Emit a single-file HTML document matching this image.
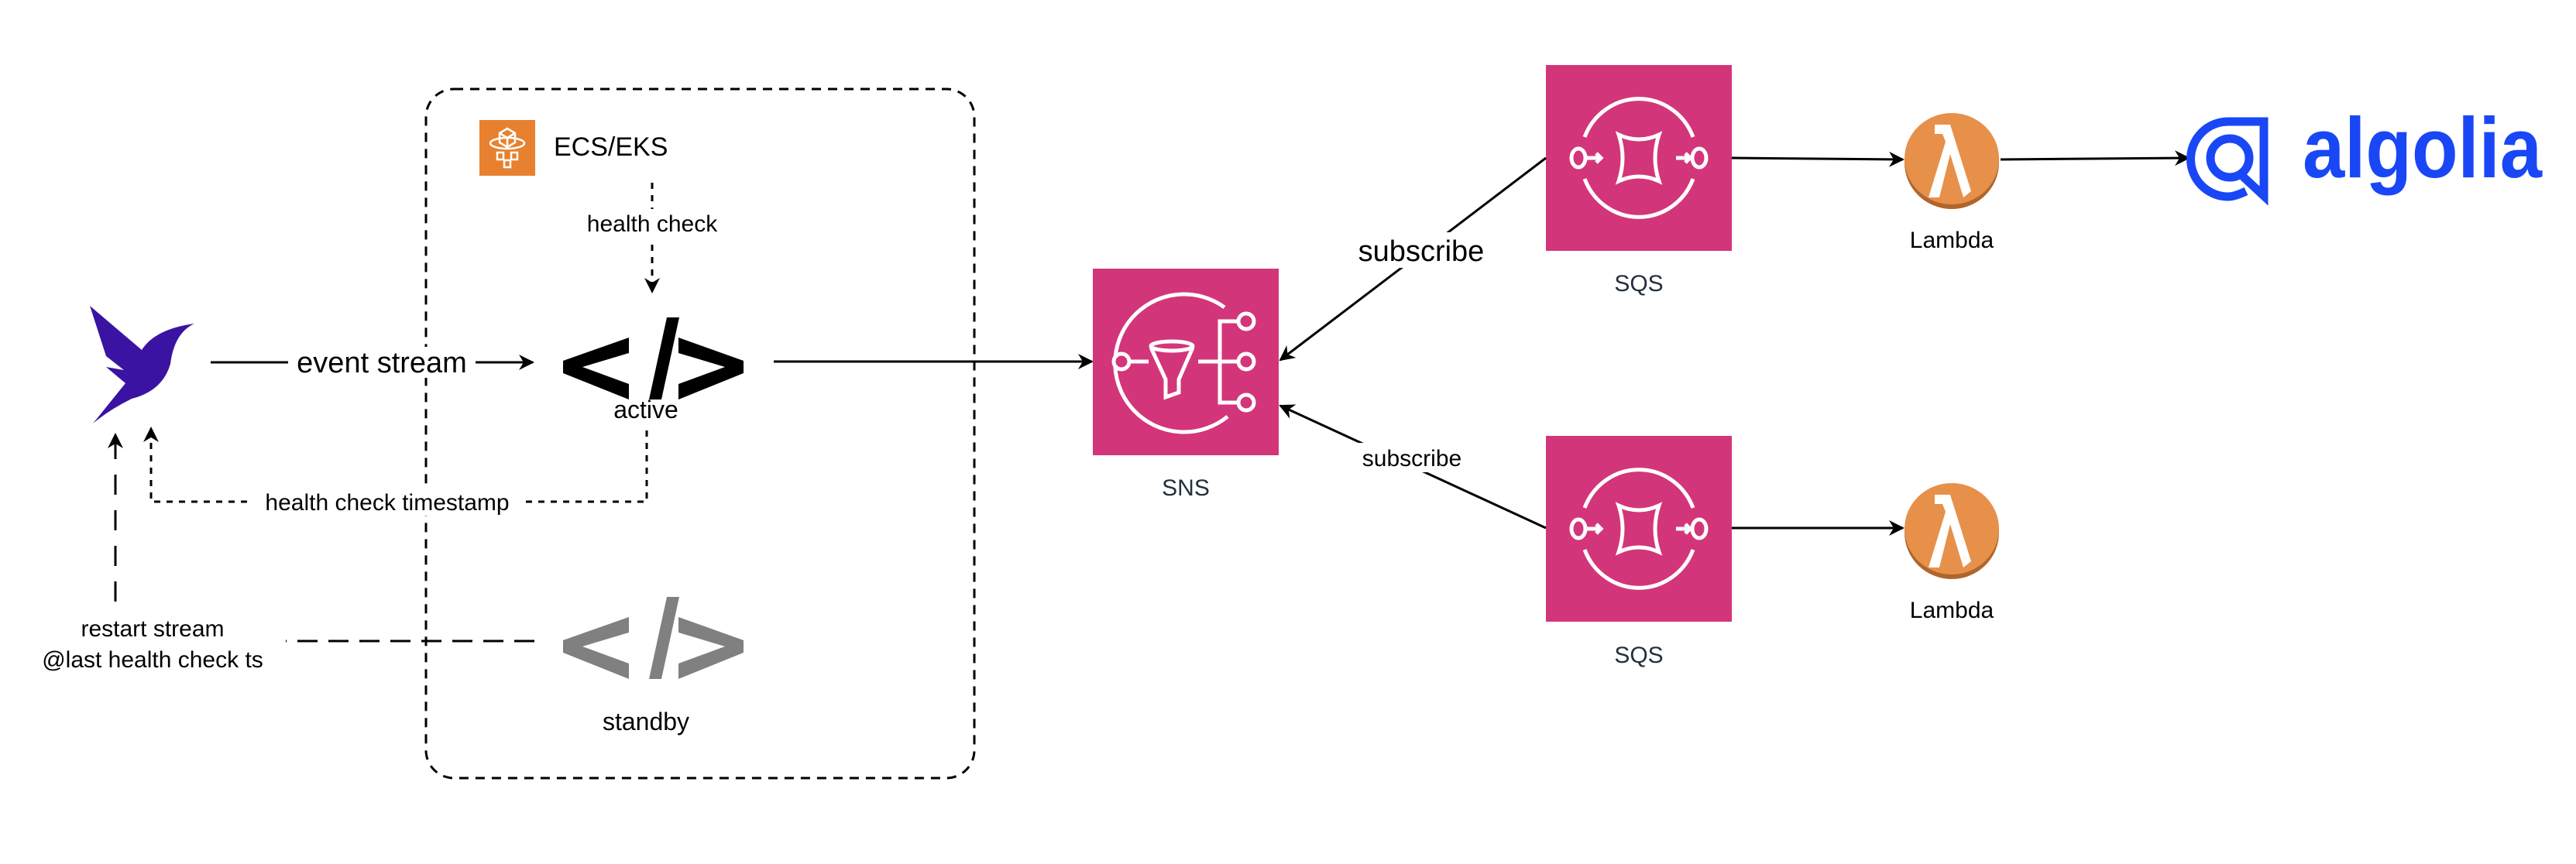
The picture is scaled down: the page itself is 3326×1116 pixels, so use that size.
<!DOCTYPE html>
<html><head><meta charset="utf-8"><style>
html,body{margin:0;padding:0;background:#fff;}
svg{display:block;}
text{font-family:"Liberation Sans",Arial,sans-serif;}
</style></head><body>
<svg width="3326" height="1116" viewBox="0 0 3326 1116" xmlns="http://www.w3.org/2000/svg">
<defs>
<marker id="ar" viewBox="0 0 20 20" refX="18" refY="10" markerWidth="20" markerHeight="20" markerUnits="userSpaceOnUse" orient="auto">
<path d="M0,0 L20,10 L0,20 L6,10 Z" fill="#000"/></marker>
</defs>

<!-- container -->
<rect x="550" y="115" width="708" height="890" rx="36" fill="none" stroke="#000" stroke-width="3" stroke-dasharray="12,9"/>

<!-- ECS icon -->
<rect x="619" y="155" width="72" height="72" fill="#E7812F"/>
<g fill="none" stroke="#fff" stroke-width="2.5">
<path d="M645,172 l10,-6 l10,6 v12 l-10,6 l-10,-6 z M645,172 l10,6 l10,-6 M655,178 v12"/>
<ellipse cx="655" cy="185" rx="22" ry="7"/>
<rect x="642" y="197" width="8" height="9"/><rect x="660" y="197" width="8" height="9"/><rect x="651" y="207" width="8" height="9"/>
</g>
<text x="715" y="201" font-size="34" fill="#000">ECS/EKS</text>

<!-- health check -->
<line x1="842" y1="236" x2="842" y2="377" stroke="#000" stroke-width="3" stroke-dasharray="8,8" marker-end="url(#ar)"/>
<rect x="740" y="270" width="200" height="38" fill="#fff"/>
<text x="842" y="299" font-size="30" text-anchor="middle" fill="#000">health check</text>

<!-- active </> -->
<g fill="#000">
<polygon points="812,436 812,456 752,474 812,496 812,516 727,482 727,466"/>
<polygon points="876,436 876,456 936,474 876,496 876,516 960,482 960,466"/>
<polygon points="861,410 877,410 854,516 838,516"/>
</g>
<text x="834" y="540" font-size="32" text-anchor="middle" fill="#000">active</text>

<!-- standby </> -->
<g fill="#808080">
<polygon points="812,797 812,817 752,835 812,857 812,877 727,843 727,827"/>
<polygon points="876,797 876,817 936,835 876,857 876,877 960,843 960,827"/>
<polygon points="861,771 877,771 854,877 838,877"/>
</g>
<text x="834" y="943" font-size="32" text-anchor="middle" fill="#000">standby</text>

<!-- bird -->
<path d="M116,395 L183,452 Q200,425 251,418 Q225,430 220,470 Q210,505 170,515 Q140,530 120,547 L162,495 Q150,485 137,474 L160,478 L137,460 Z" fill="#3A13A3"/>

<!-- event stream -->
<line x1="272" y1="468" x2="688" y2="468" stroke="#000" stroke-width="3" marker-end="url(#ar)"/>
<rect x="372" y="448" width="242" height="40" fill="#fff"/>
<text x="493" y="481" font-size="38" text-anchor="middle" fill="#000">event stream</text>

<!-- health check timestamp -->
<polyline points="835,556 835,648 195,648 195,553" fill="none" stroke="#000" stroke-width="3" stroke-dasharray="8,8" marker-end="url(#ar)"/>
<rect x="326" y="630" width="348" height="36" fill="#fff"/>
<text x="500" y="659" font-size="30" text-anchor="middle" fill="#000">health check timestamp</text>

<!-- restart -->
<line x1="149" y1="777" x2="149" y2="561" stroke="#000" stroke-width="3" stroke-dasharray="26,20" marker-end="url(#ar)"/>
<line x1="690" y1="828" x2="369" y2="828" stroke="#000" stroke-width="3" stroke-dasharray="26,14"/>
<text x="197" y="822" font-size="30" text-anchor="middle" fill="#000">restart stream</text>
<text x="197" y="862" font-size="30" text-anchor="middle" fill="#000">@last health check ts</text>

<!-- active -> SNS -->
<line x1="999" y1="467" x2="1410" y2="467" stroke="#000" stroke-width="3" marker-end="url(#ar)"/>

<!-- SNS -->
<rect x="1411" y="347" width="240" height="241" fill="#D3357A"/>
<g fill="none" stroke="#fff" stroke-width="5">
<path d="M1581,397 A89,89 0 1,0 1585,538"/>
<circle cx="1448" cy="467" r="10" fill="#D3357A"/>
<line x1="1458" y1="467" x2="1483" y2="467"/>
<ellipse cx="1513" cy="447" rx="27" ry="6"/>
<path d="M1486,449 L1505,490 V513 L1522,507 V490 L1540,449"/>
<line x1="1547" y1="467" x2="1600" y2="467"/>
<polyline points="1600,415 1575,415 1575,520 1600,520"/>
<circle cx="1609" cy="415" r="10"/><circle cx="1609" cy="467" r="10"/><circle cx="1609" cy="520" r="10"/>
</g>
<text x="1531" y="640" font-size="30" text-anchor="middle" fill="#232F3E">SNS</text>

<!-- SQS template -->
<g id="sqs1">
<rect x="1996" y="84" width="240" height="240" fill="#D3357A"/>
<g fill="none" stroke="#fff" stroke-width="5">
<path d="M2046,177 A75,77 0 0,1 2186,177"/>
<path d="M2046,231 A75,77 0 0,0 2186,231"/>
<ellipse cx="2038" cy="204" rx="9" ry="12"/>
<ellipse cx="2194" cy="204" rx="9" ry="12"/>
<path d="M2049,204 h18 M2061,198 l6,6 l-6,6"/>
<path d="M2164,204 h18 M2176,198 l6,6 l-6,6"/>
<path d="M2090,174 Q2116,186 2142,174 Q2132,204 2142,234 Q2116,222 2090,234 Q2100,204 2090,174 Z"/>
</g>
</g>
<text x="2116" y="376" font-size="30" text-anchor="middle" fill="#232F3E">SQS</text>
<use href="#sqs1" y="479"/>
<text x="2116" y="856" font-size="30" text-anchor="middle" fill="#232F3E">SQS</text>

<!-- subscribe arrows -->
<line x1="1996" y1="204" x2="1653" y2="465" stroke="#000" stroke-width="3" marker-end="url(#ar)"/>
<rect x="1745" y="300" width="180" height="46" fill="#fff"/>
<text x="1835" y="337" font-size="38" text-anchor="middle" fill="#000">subscribe</text>
<line x1="1996" y1="682" x2="1653" y2="524" stroke="#000" stroke-width="3" marker-end="url(#ar)"/>
<rect x="1748" y="572" width="150" height="38" fill="#fff"/>
<text x="1823" y="602" font-size="30" text-anchor="middle" fill="#000">subscribe</text>

<!-- SQS -> Lambda -->
<line x1="2236" y1="204" x2="2457" y2="206" stroke="#000" stroke-width="3" marker-end="url(#ar)"/>
<line x1="2236" y1="682" x2="2457" y2="682" stroke="#000" stroke-width="3" marker-end="url(#ar)"/>

<!-- Lambdas -->
<g id="lam1">
<ellipse cx="2520" cy="210" rx="61" ry="60" fill="#B0652D"/>
<ellipse cx="2520" cy="205" rx="61" ry="59" fill="#E7904A"/>
<path d="M2498,161 h20 l27,86 l-10,8 l-17,-56 l-14,56 h-14 l22,-72 l-4,-10 h-10 z" fill="#fff"/>
</g>
<text x="2520" y="320" font-size="30" text-anchor="middle" fill="#000">Lambda</text>
<use href="#lam1" y="478"/>
<text x="2520" y="798" font-size="30" text-anchor="middle" fill="#000">Lambda</text>

<!-- Lambda -> Algolia -->
<line x1="2583" y1="206" x2="2826" y2="204" stroke="#000" stroke-width="3" marker-end="url(#ar)"/>

<!-- Algolia -->
<g fill="none" stroke="#1A47F5" stroke-width="11">
<path d="M2900,247 Q2885,254 2877,254 A48,48 0 0,1 2877,157 H2923 V253 L2896,228"/>
<circle cx="2879" cy="204" r="25"/>
</g>
<text x="2973" y="229" font-size="110" font-weight="bold" fill="#1A47F5" textLength="309" lengthAdjust="spacingAndGlyphs">algolia</text>
</svg>
</body></html>
